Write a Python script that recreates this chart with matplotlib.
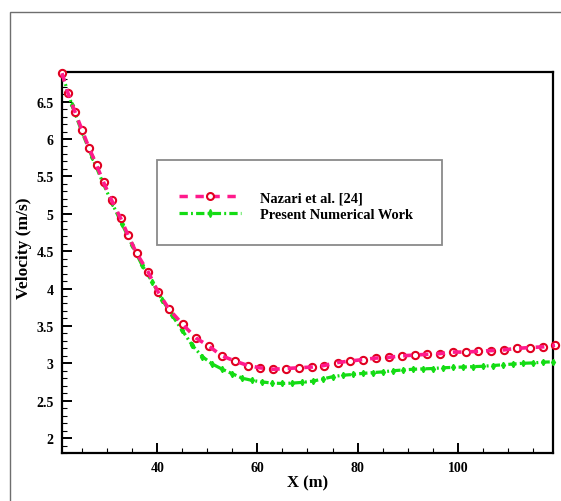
import numpy as np
import matplotlib
matplotlib.use("Agg")
import matplotlib.pyplot as plt
from matplotlib.lines import Line2D
from matplotlib.patches import Rectangle
from matplotlib.ticker import MultipleLocator

# Nazari et al. [24] - reference data
nazari_x = [21.0, 22.2, 23.6, 25.0, 26.4, 27.9, 29.3, 30.9, 32.7, 34.2,
            35.9, 38.2, 40.2, 42.4, 45.1, 47.7, 50.3, 52.9, 55.5, 58.1,
            60.5, 63.2, 65.7, 68.3, 70.9, 73.3, 76.0, 78.5, 81.1, 83.7,
            86.3, 88.9, 91.4, 93.9, 96.5, 99.0, 101.6, 104.1, 106.7, 109.3,
            111.8, 114.4, 117.0, 119.4]
nazari_v = [6.88, 6.61, 6.36, 6.12, 5.88, 5.65, 5.42, 5.18, 4.94, 4.71,
            4.47, 4.22, 3.95, 3.72, 3.52, 3.34, 3.23, 3.10, 3.03, 2.97,
            2.94, 2.92, 2.93, 2.94, 2.95, 2.97, 3.01, 3.03, 3.05, 3.07,
            3.08, 3.10, 3.11, 3.12, 3.13, 3.15, 3.15, 3.16, 3.17, 3.18,
            3.20, 3.21, 3.22, 3.24]

# present numerical work
present_x = [21, 23, 25, 27, 29, 31, 33, 35, 37, 39,
             41, 43, 45, 47, 49, 51, 53, 55, 57, 59,
             61, 63, 65, 67, 69, 71, 73, 75, 77, 79,
             81, 83, 85, 87, 89, 91, 93, 95, 97, 99,
             101, 103, 105, 107, 109, 111, 113, 115, 117, 119]
present_v = [6.88, 6.45, 6.09, 5.76, 5.44, 5.14, 4.86, 4.58, 4.31, 4.09,
             3.85, 3.64, 3.44, 3.24, 3.09, 2.99, 2.92, 2.86, 2.80, 2.77,
             2.75, 2.735, 2.73, 2.735, 2.745, 2.76, 2.79, 2.82, 2.84, 2.85,
             2.865, 2.875, 2.885, 2.90, 2.91, 2.92, 2.925, 2.93, 2.94, 2.945,
             2.95, 2.955, 2.96, 2.97, 2.98, 2.99, 3.00, 3.005, 3.015, 3.02]

labels = ["Nazari et al. [24]", "Present Numerical Work"]

PINK = "#ff1a8c"
RED = "#e00020"
GREEN = "#14dc14"

plt.rcParams["font.family"] = "Liberation Serif"
plt.rcParams["font.weight"] = "bold"

fig = plt.figure(figsize=(5.61, 5.02), dpi=100)
ax = fig.add_axes([62 / 561, 1 - 454 / 502, 491 / 561, 381.3 / 502])

# outer grey frame (only top/left edges visible)
fig.patches.append(Rectangle((10 / 561, -0.1), 1.2, 1 - 13 / 502 + 0.1,
                             transform=fig.transFigure, fill=False,
                             edgecolor="#6e6e6e", linewidth=1.0))

green_dash = (2.6, 1.0, 0.6, 1.0)
pink_dash = (2.4, 2.2)

ax.plot(present_x, present_v, color=GREEN, lw=2.3, dashes=green_dash,
        marker="d", ms=3.2, mfc=GREEN, mec=GREEN, zorder=3, clip_on=False)
ax.plot(nazari_x, nazari_v, ls="none", marker="o", ms=5.2, mfc="white",
        mec=RED, mew=1.5, zorder=4, clip_on=False)
ax.plot(nazari_x, nazari_v, color=PINK, lw=2.6, dashes=pink_dash,
        zorder=5, clip_on=False)

ax.set_xlim(21, 119)
ax.set_ylim(1.8, 6.9)
ax.xaxis.set_major_locator(MultipleLocator(20))
ax.xaxis.set_minor_locator(MultipleLocator(5))
ax.yaxis.set_minor_locator(MultipleLocator(0.1))
ax.set_yticks([2, 2.5, 3, 3.5, 4, 4.5, 5, 5.5, 6, 6.5])
ax.set_yticklabels(["2", "2.5", "3", "3.5", "4", "4.5", "5", "5.5", "6", "6.5"])

ax.tick_params(which="major", direction="in", length=7, width=1.4,
               labelsize=10, pad=6)
ax.tick_params(which="minor", direction="in", length=3.5, width=0.8)
for s in ax.spines.values():
    s.set_linewidth(1.6)

ax.set_xlabel("X (m)", fontsize=12, fontweight="bold")
ax.set_ylabel("Velocity (m/s)", fontsize=12.5, fontweight="bold")
ax.xaxis.set_label_coords(0.5, -0.056)
ax.yaxis.set_label_coords(-0.062, 0.54)

# legend box
fig.patches.append(Rectangle((157 / 561, 1 - 246 / 502), 285 / 561, 85 / 502,
                             transform=fig.transFigure, fill=False,
                             edgecolor="#8a8a8a", linewidth=1.3))
handles = [
    Line2D([], [], color=PINK, lw=2.5, dashes=pink_dash, marker="o", ms=5,
           mfc="white", mec=RED, mew=1.5),
    Line2D([], [], color=GREEN, lw=2.3, dashes=green_dash, marker="d",
           ms=4, mfc=GREEN, mec=GREEN),
]
fig.legend(handles, labels, loc="center left",
           bbox_to_anchor=(179 / 561, 1 - 207 / 502), frameon=False,
           borderpad=0, borderaxespad=0, handlelength=4.3,
           handletextpad=1.3, labelspacing=0.25,
           prop={"family": "Liberation Serif", "weight": "bold", "size": 10.4})

fig.savefig("out.png", dpi=100)
